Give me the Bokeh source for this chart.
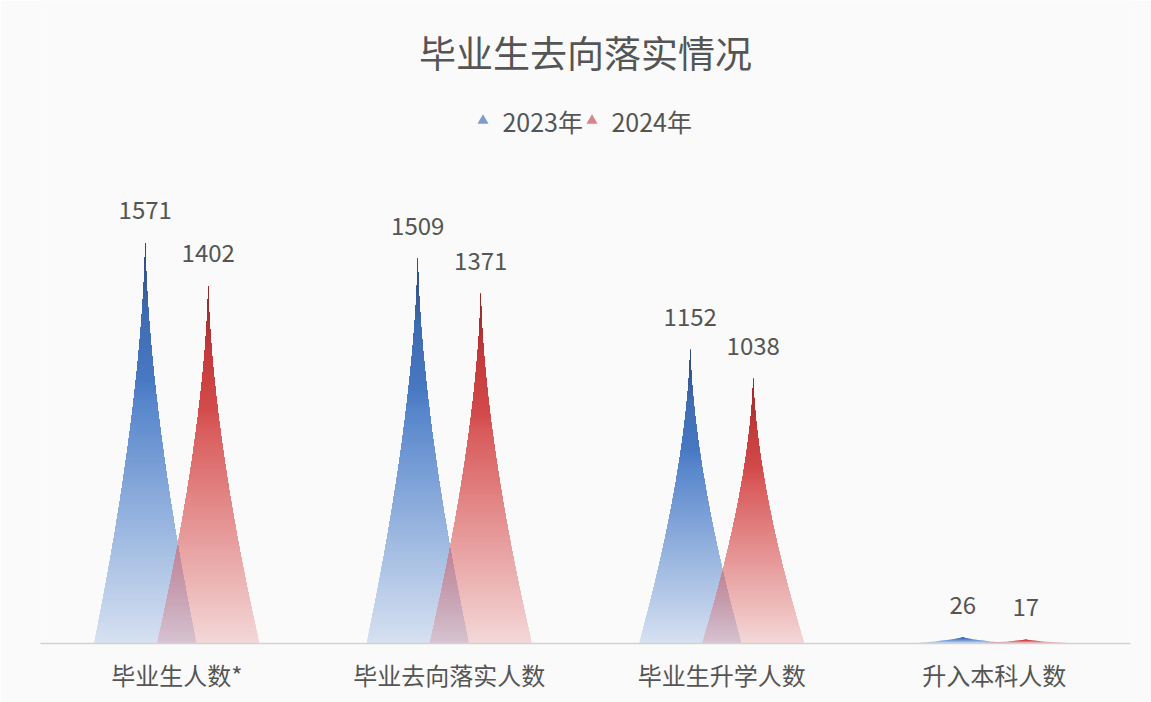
import numpy as np
from bokeh.plotting import figure
from bokeh.models import FactorRange, Range1d, ColumnDataSource
from bokeh.core.properties import value
from bokeh.embed import file_html
from bokeh.resources import INLINE

# ---------------- data ----------------
title_text = "毕业生去向落实情况"
categories = ["毕业生人数*", "毕业去向落实人数", "毕业生升学人数", "升入本科人数"]
series_names = ["2023年", "2024年"]
values_2023 = [1571, 1509, 1152, 26]
values_2024 = [1402, 1371, 1038, 17]

# ---------------- layout / style ----------------
W, H = 1151, 702
BL, BR, BT, BB = 40, 21, 0, 59
FRAME_H = H - BT - BB
YMAX = 2515
UPP = YMAX / FRAME_H          # data units per pixel
FONT = value("Noto Sans CJK SC")
TXT = "#555555"
BG = "#fafafa"
BG_RGB = np.array([250.0, 250.0, 250.0])

OFFSET = 0.1156               # series offset inside a category
HALF_W = 0.1875               # half base width of a peak
POWER = 1.6                   # concavity of the peak sides
LEVELS = np.linspace(0, 1, 61)

BLUE_STOPS = [(0.0, (80, 130, 205)), (0.6, (75, 125, 200)), (0.82, (64, 108, 178)), (1.0, (45, 70, 112))]
RED_STOPS = [(0.0, (218, 85, 85)), (0.6, (215, 80, 80)), (0.82, (196, 58, 58)), (1.0, (140, 40, 40))]


def grad_color(stops, h):
    for (h0, c0), (h1, c1) in zip(stops[:-1], stops[1:]):
        if h <= h1:
            t = (h - h0) / (h1 - h0) if h1 > h0 else 0
            return np.array([a + (b - a) * t for a, b in zip(c0, c1)], dtype=float)
    return np.array(stops[-1][1], dtype=float)


def alpha_of(h):
    return min(1.0, 0.21 + 1.2 * max(0.0, h))


def blend(stops, h, under):
    a = alpha_of(h)
    return grad_color(stops, h) * a + under * (1 - a)


def hexc(c):
    c = np.clip(np.round(c), 0, 255).astype(int)
    return "#%02x%02x%02x" % tuple(c)


def profile(h):
    return max(0.0, 1.0 - h) ** POWER


STEP = 2 * UPP


def peak_layers(center, v, stops):
    """Nested opaque layers (each from its start height up to the tip):
    only a thin band of each stays visible, giving a seamless gradient."""
    xs, ys, cols = [], [], []
    for y0 in np.arange(0, v, STEP):
        ym = min(y0 + STEP / 2, (y0 + v) / 2)
        h0 = y0 / v
        hs = [h0] + [h for h in LEVELS if h > h0 + 1e-9]
        right = [(center + HALF_W * profile(h), h * v) for h in hs]
        left = [(center - HALF_W * profile(h), h * v) for h in reversed(hs)]
        pts = right + left
        xs.append([q[0] for q in pts]); ys.append([q[1] for q in pts])
        cols.append(hexc(blend(stops, ym / v, BG_RGB)))
    return xs, ys, cols


def overlap_layers(cb, vb, cr, vr):
    """Lens where the 2024 peak lies over the 2023 peak (semi-transparent mix)."""
    xb = lambda y: cb + HALF_W * profile(y / vb)
    xr = lambda y: cr - HALF_W * profile(y / vr)
    top = min(vb, vr)
    if xb(0) <= xr(0):
        return [], [], []
    lo, hi = 0.0, top
    if xb(top) > xr(top):
        yc = top
    else:
        for _ in range(60):
            mid = (lo + hi) / 2
            if xb(mid) > xr(mid):
                lo = mid
            else:
                hi = mid
        yc = lo
    xs, ys, cols = [], [], []
    for y0 in np.arange(0, yc, STEP):
        ym = min(y0 + STEP / 2, (y0 + yc) / 2)
        yy = np.linspace(y0, yc, 24)
        pts = [(xr(y), y) for y in yy] + [(xb(y), y) for y in yy[::-1]]
        xs.append([q[0] for q in pts]); ys.append([q[1] for q in pts])
        under = blend(BLUE_STOPS, ym / vb, BG_RGB)
        cols.append(hexc(blend(RED_STOPS, ym / vr, under)))
    return xs, ys, cols


def y_from_top(px):
    return (FRAME_H - (px - BT)) * UPP


p = figure(width=W, height=H,
           x_range=FactorRange(*categories), y_range=Range1d(0, YMAX),
           output_backend="svg", toolbar_location=None,
           min_border_left=BL, min_border_right=BR,
           min_border_top=BT, min_border_bottom=BB)
p.background_fill_color = BG
p.border_fill_color = BG
p.outline_line_color = None
p.xgrid.visible = False
p.ygrid.visible = False
p.yaxis.visible = False

xa = p.xaxis[0]
xa.axis_line_color = "#d2d2d2"
xa.axis_line_width = 1.5
xa.major_tick_line_color = None
xa.minor_tick_line_color = None
xa.major_label_text_font = "Noto Sans CJK SC"
xa.major_label_text_font_size = "24px"
xa.major_label_text_color = TXT
xa.major_label_standoff = 7

# peaks: 2023 (blue), then 2024 (red), then their overlap
XS, YS, C = [], [], []
for i in range(len(categories)):
    cb = i + 0.5 - OFFSET
    cr = i + 0.5 + OFFSET
    for cx, v, stops in [(cb, values_2023[i], BLUE_STOPS), (cr, values_2024[i], RED_STOPS)]:
        xs, ys, cols = peak_layers(cx, v, stops)
        XS += xs; YS += ys; C += cols
    xs, ys, cols = overlap_layers(cb, values_2023[i], cr, values_2024[i])
    XS += xs; YS += ys; C += cols
src = ColumnDataSource(dict(xs=XS, ys=YS, c=C))
p.patches("xs", "ys", source=src, fill_color="c", fill_alpha=1.0, line_color=None)

# value labels
for vals, sign in [(values_2023, -1), (values_2024, 1)]:
    p.text(x=[i + 0.5 + sign * OFFSET for i in range(len(vals))], y=vals,
           text=[str(v) for v in vals], text_font=FONT, text_font_size="24px",
           text_color=TXT, text_align="center", text_baseline="alphabetic",
           y_offset=-32)

# title
p.text(x=[2.0], y=[y_from_top(51)], text=[title_text], text_font=FONT,
       text_font_size="37px", text_color=TXT, text_align="center",
       text_baseline="middle")

# legend
leg_y = y_from_top(120)
p.scatter(x=[1.6238], y=[leg_y], marker="triangle", size=11,
          fill_color="#7d9ccb", line_color=None)
p.scatter(x=[2.0238], y=[leg_y], marker="triangle", size=11,
          fill_color="#d98585", line_color=None)
p.text(x=[1.6954, 2.0954], y=[leg_y, leg_y], text=series_names, text_font=FONT,
       text_font_size="25px", text_color=TXT, text_align="left",
       text_baseline="middle")

open("out.html", "w").write(file_html(p, INLINE))
